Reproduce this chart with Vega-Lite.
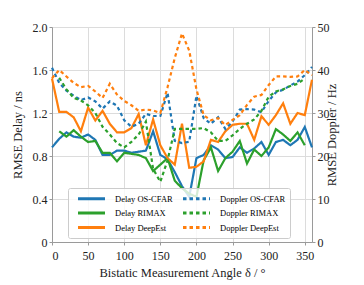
{
  "$schema": "https://vega.github.io/schema/vega-lite/v6.json",
  "width": 260,
  "height": 215,
  "autosize": {"type": "none"},
  "padding": {"left": 52, "top": 27, "right": 52, "bottom": 43},
  "background": "white",
  "config": {
    "font": "Liberation Serif",
    "view": {"stroke": null},
    "axis": {
      "labelFont": "Liberation Serif",
      "titleFont": "Liberation Serif",
      "labelFontSize": 12,
      "titleFontSize": 12.5,
      "titleFontWeight": "normal",
      "labelColor": "#222",
      "titleColor": "#222",
      "domainColor": "#9a9a9a",
      "tickColor": "#9a9a9a",
      "tickSize": 3,
      "gridColor": "#dcdcdc",
      "gridWidth": 1,
      "labelPadding": 2
    },
    "legend": {
      "labelFont": "Liberation Serif",
      "labelFontSize": 8.5
    }
  },
  "data": {
    "values": [
      {"a":0,"s":"Delay OS-CFAR","v":0.88},{"a":10,"s":"Delay OS-CFAR","v":0.96},{"a":20,"s":"Delay OS-CFAR","v":1.02},{"a":30,"s":"Delay OS-CFAR","v":0.98},{"a":40,"s":"Delay OS-CFAR","v":0.97},{"a":50,"s":"Delay OS-CFAR","v":1.0},{"a":60,"s":"Delay OS-CFAR","v":0.95},{"a":70,"s":"Delay OS-CFAR","v":0.81},{"a":80,"s":"Delay OS-CFAR","v":0.81},{"a":90,"s":"Delay OS-CFAR","v":0.85},{"a":100,"s":"Delay OS-CFAR","v":0.85},{"a":110,"s":"Delay OS-CFAR","v":0.83},{"a":120,"s":"Delay OS-CFAR","v":0.84},{"a":130,"s":"Delay OS-CFAR","v":0.85},{"a":140,"s":"Delay OS-CFAR","v":1.03},{"a":150,"s":"Delay OS-CFAR","v":0.81},{"a":160,"s":"Delay OS-CFAR","v":0.77},{"a":170,"s":"Delay OS-CFAR","v":0.65},{"a":180,"s":"Delay OS-CFAR","v":0.52},{"a":190,"s":"Delay OS-CFAR","v":0.42},{"a":200,"s":"Delay OS-CFAR","v":0.78},{"a":210,"s":"Delay OS-CFAR","v":0.81},{"a":220,"s":"Delay OS-CFAR","v":0.9},{"a":230,"s":"Delay OS-CFAR","v":0.86},{"a":240,"s":"Delay OS-CFAR","v":0.78},{"a":250,"s":"Delay OS-CFAR","v":0.79},{"a":260,"s":"Delay OS-CFAR","v":0.88},{"a":270,"s":"Delay OS-CFAR","v":0.83},{"a":280,"s":"Delay OS-CFAR","v":0.87},{"a":290,"s":"Delay OS-CFAR","v":0.93},{"a":300,"s":"Delay OS-CFAR","v":0.81},{"a":310,"s":"Delay OS-CFAR","v":0.93},{"a":320,"s":"Delay OS-CFAR","v":0.95},{"a":330,"s":"Delay OS-CFAR","v":0.9},{"a":340,"s":"Delay OS-CFAR","v":0.95},{"a":350,"s":"Delay OS-CFAR","v":1.07},{"a":360,"s":"Delay OS-CFAR","v":0.88},

      {"a":10,"s":"Delay RIMAX","v":1.03},{"a":20,"s":"Delay RIMAX","v":0.98},{"a":30,"s":"Delay RIMAX","v":1.04},{"a":40,"s":"Delay RIMAX","v":0.98},{"a":50,"s":"Delay RIMAX","v":0.93},{"a":60,"s":"Delay RIMAX","v":0.94},{"a":70,"s":"Delay RIMAX","v":0.83},{"a":80,"s":"Delay RIMAX","v":0.83},{"a":90,"s":"Delay RIMAX","v":0.75},{"a":100,"s":"Delay RIMAX","v":0.83},{"a":110,"s":"Delay RIMAX","v":0.82},{"a":120,"s":"Delay RIMAX","v":0.81},{"a":130,"s":"Delay RIMAX","v":0.78},{"a":140,"s":"Delay RIMAX","v":0.66},{"a":150,"s":"Delay RIMAX","v":0.72},{"a":160,"s":"Delay RIMAX","v":0.78},{"a":170,"s":"Delay RIMAX","v":0.57},{"a":180,"s":"Delay RIMAX","v":0.5},{"a":190,"s":"Delay RIMAX","v":0.45},{"a":200,"s":"Delay RIMAX","v":0.42},{"a":210,"s":"Delay RIMAX","v":0.76},{"a":220,"s":"Delay RIMAX","v":0.88},{"a":230,"s":"Delay RIMAX","v":0.66},{"a":240,"s":"Delay RIMAX","v":0.78},{"a":250,"s":"Delay RIMAX","v":0.84},{"a":260,"s":"Delay RIMAX","v":0.94},{"a":270,"s":"Delay RIMAX","v":0.73},{"a":280,"s":"Delay RIMAX","v":0.86},{"a":290,"s":"Delay RIMAX","v":0.8},{"a":300,"s":"Delay RIMAX","v":0.88},{"a":310,"s":"Delay RIMAX","v":1.05},{"a":320,"s":"Delay RIMAX","v":1.0},{"a":330,"s":"Delay RIMAX","v":0.94},{"a":340,"s":"Delay RIMAX","v":1.02},{"a":350,"s":"Delay RIMAX","v":0.9},

      {"a":0,"s":"Delay DeepEst","v":1.52},{"a":10,"s":"Delay DeepEst","v":1.21},{"a":20,"s":"Delay DeepEst","v":1.21},{"a":30,"s":"Delay DeepEst","v":1.16},{"a":40,"s":"Delay DeepEst","v":1.03},{"a":50,"s":"Delay DeepEst","v":1.25},{"a":60,"s":"Delay DeepEst","v":1.13},{"a":70,"s":"Delay DeepEst","v":1.22},{"a":80,"s":"Delay DeepEst","v":1.1},{"a":90,"s":"Delay DeepEst","v":1.02},{"a":100,"s":"Delay DeepEst","v":1.02},{"a":110,"s":"Delay DeepEst","v":1.06},{"a":120,"s":"Delay DeepEst","v":1.19},{"a":130,"s":"Delay DeepEst","v":0.9},{"a":140,"s":"Delay DeepEst","v":1.14},{"a":150,"s":"Delay DeepEst","v":0.9},{"a":160,"s":"Delay DeepEst","v":0.78},{"a":170,"s":"Delay DeepEst","v":0.72},{"a":180,"s":"Delay DeepEst","v":1.1},{"a":190,"s":"Delay DeepEst","v":0.69},{"a":200,"s":"Delay DeepEst","v":0.7},{"a":210,"s":"Delay DeepEst","v":0.75},{"a":220,"s":"Delay DeepEst","v":0.95},{"a":230,"s":"Delay DeepEst","v":0.93},{"a":240,"s":"Delay DeepEst","v":1.03},{"a":250,"s":"Delay DeepEst","v":1.09},{"a":260,"s":"Delay DeepEst","v":1.1},{"a":270,"s":"Delay DeepEst","v":1.1},{"a":280,"s":"Delay DeepEst","v":0.95},{"a":290,"s":"Delay DeepEst","v":1.17},{"a":300,"s":"Delay DeepEst","v":1.09},{"a":310,"s":"Delay DeepEst","v":1.18},{"a":320,"s":"Delay DeepEst","v":1.29},{"a":330,"s":"Delay DeepEst","v":1.1},{"a":340,"s":"Delay DeepEst","v":1.2},{"a":350,"s":"Delay DeepEst","v":1.18},{"a":360,"s":"Delay DeepEst","v":1.51},

      {"a":0,"s":"Doppler OS-CFAR","v":40.5},{"a":10,"s":"Doppler OS-CFAR","v":37},{"a":20,"s":"Doppler OS-CFAR","v":35.2},{"a":30,"s":"Doppler OS-CFAR","v":34},{"a":40,"s":"Doppler OS-CFAR","v":33},{"a":50,"s":"Doppler OS-CFAR","v":33.6},{"a":60,"s":"Doppler OS-CFAR","v":32.7},{"a":70,"s":"Doppler OS-CFAR","v":31},{"a":80,"s":"Doppler OS-CFAR","v":32.7},{"a":90,"s":"Doppler OS-CFAR","v":31.7},{"a":100,"s":"Doppler OS-CFAR","v":28.3},{"a":110,"s":"Doppler OS-CFAR","v":26.8},{"a":120,"s":"Doppler OS-CFAR","v":27.5},{"a":130,"s":"Doppler OS-CFAR","v":29.8},{"a":140,"s":"Doppler OS-CFAR","v":29.3},{"a":150,"s":"Doppler OS-CFAR","v":29.3},{"a":160,"s":"Doppler OS-CFAR","v":34.7},{"a":170,"s":"Doppler OS-CFAR","v":23.5},{"a":180,"s":"Doppler OS-CFAR","v":23},{"a":190,"s":"Doppler OS-CFAR","v":23.3},{"a":200,"s":"Doppler OS-CFAR","v":34},{"a":210,"s":"Doppler OS-CFAR","v":28.8},{"a":220,"s":"Doppler OS-CFAR","v":27.5},{"a":230,"s":"Doppler OS-CFAR","v":29},{"a":240,"s":"Doppler OS-CFAR","v":26.3},{"a":250,"s":"Doppler OS-CFAR","v":28},{"a":260,"s":"Doppler OS-CFAR","v":30.8},{"a":270,"s":"Doppler OS-CFAR","v":30.9},{"a":280,"s":"Doppler OS-CFAR","v":30.8},{"a":290,"s":"Doppler OS-CFAR","v":30.2},{"a":300,"s":"Doppler OS-CFAR","v":32.8},{"a":310,"s":"Doppler OS-CFAR","v":34.8},{"a":320,"s":"Doppler OS-CFAR","v":35.4},{"a":330,"s":"Doppler OS-CFAR","v":36.4},{"a":340,"s":"Doppler OS-CFAR","v":37.3},{"a":350,"s":"Doppler OS-CFAR","v":38.8},{"a":360,"s":"Doppler OS-CFAR","v":40.7},

      {"a":10,"s":"Doppler RIMAX","v":38.2},{"a":20,"s":"Doppler RIMAX","v":35.5},{"a":30,"s":"Doppler RIMAX","v":33.5},{"a":40,"s":"Doppler RIMAX","v":32.9},{"a":50,"s":"Doppler RIMAX","v":31.8},{"a":60,"s":"Doppler RIMAX","v":30},{"a":70,"s":"Doppler RIMAX","v":26.8},{"a":80,"s":"Doppler RIMAX","v":25},{"a":90,"s":"Doppler RIMAX","v":23},{"a":100,"s":"Doppler RIMAX","v":22},{"a":110,"s":"Doppler RIMAX","v":23.3},{"a":120,"s":"Doppler RIMAX","v":25},{"a":130,"s":"Doppler RIMAX","v":28},{"a":140,"s":"Doppler RIMAX","v":17},{"a":150,"s":"Doppler RIMAX","v":14},{"a":160,"s":"Doppler RIMAX","v":19},{"a":170,"s":"Doppler RIMAX","v":26.3},{"a":180,"s":"Doppler RIMAX","v":26.3},{"a":190,"s":"Doppler RIMAX","v":26.3},{"a":200,"s":"Doppler RIMAX","v":26.3},{"a":210,"s":"Doppler RIMAX","v":26.5},{"a":220,"s":"Doppler RIMAX","v":25.5},{"a":230,"s":"Doppler RIMAX","v":23.5},{"a":240,"s":"Doppler RIMAX","v":23.5},{"a":250,"s":"Doppler RIMAX","v":24.8},{"a":260,"s":"Doppler RIMAX","v":26.3},{"a":270,"s":"Doppler RIMAX","v":27.5},{"a":280,"s":"Doppler RIMAX","v":28.5},{"a":290,"s":"Doppler RIMAX","v":30.5},{"a":300,"s":"Doppler RIMAX","v":33.8},{"a":310,"s":"Doppler RIMAX","v":35},{"a":320,"s":"Doppler RIMAX","v":35.5},{"a":330,"s":"Doppler RIMAX","v":36.3},{"a":340,"s":"Doppler RIMAX","v":36.8},{"a":350,"s":"Doppler RIMAX","v":38},

      {"a":0,"s":"Doppler DeepEst","v":38.1},{"a":10,"s":"Doppler DeepEst","v":40},{"a":20,"s":"Doppler DeepEst","v":38.5},{"a":30,"s":"Doppler DeepEst","v":37},{"a":40,"s":"Doppler DeepEst","v":36},{"a":50,"s":"Doppler DeepEst","v":36.3},{"a":60,"s":"Doppler DeepEst","v":35},{"a":70,"s":"Doppler DeepEst","v":33.5},{"a":80,"s":"Doppler DeepEst","v":36.8},{"a":90,"s":"Doppler DeepEst","v":34.3},{"a":100,"s":"Doppler DeepEst","v":32.8},{"a":110,"s":"Doppler DeepEst","v":31.8},{"a":120,"s":"Doppler DeepEst","v":30.5},{"a":130,"s":"Doppler DeepEst","v":30.8},{"a":140,"s":"Doppler DeepEst","v":30.6},{"a":150,"s":"Doppler DeepEst","v":30},{"a":160,"s":"Doppler DeepEst","v":36},{"a":170,"s":"Doppler DeepEst","v":42.8},{"a":180,"s":"Doppler DeepEst","v":48.5},{"a":190,"s":"Doppler DeepEst","v":44.5},{"a":200,"s":"Doppler DeepEst","v":35.5},{"a":210,"s":"Doppler DeepEst","v":29.5},{"a":220,"s":"Doppler DeepEst","v":28.3},{"a":230,"s":"Doppler DeepEst","v":28.8},{"a":240,"s":"Doppler DeepEst","v":27.2},{"a":250,"s":"Doppler DeepEst","v":28.4},{"a":260,"s":"Doppler DeepEst","v":29.5},{"a":270,"s":"Doppler DeepEst","v":31.9},{"a":280,"s":"Doppler DeepEst","v":33.8},{"a":290,"s":"Doppler DeepEst","v":34.2},{"a":300,"s":"Doppler DeepEst","v":36.5},{"a":310,"s":"Doppler DeepEst","v":38.5},{"a":320,"s":"Doppler DeepEst","v":38.5},{"a":330,"s":"Doppler DeepEst","v":38.4},{"a":340,"s":"Doppler DeepEst","v":38.5},{"a":350,"s":"Doppler DeepEst","v":40},{"a":360,"s":"Doppler DeepEst","v":38.8}
    ]
  },
  "encoding": {
    "x": {
      "field": "a", "type": "quantitative",
      "scale": {"domain": [0, 360], "nice": false, "zero": false},
      "axis": {"title": "Bistatic Measurement Angle δ / °", "values": [0,50,100,150,200,250,300,350], "grid": true, "labelPadding": 5, "titlePadding": 5, "labelFont": "Liberation Serif", "titleFont": "Liberation Serif"}
    },
    "color": {
      "field": "s", "type": "nominal",
      "scale": {
        "domain": ["Delay OS-CFAR","Delay RIMAX","Delay DeepEst","Doppler OS-CFAR","Doppler RIMAX","Doppler DeepEst"],
        "range": ["#1f77b4","#2ca02c","#ff7f0e","#1f77b4","#2ca02c","#ff7f0e"]
      },
      "legend": {
        "title": null, "orient": "none", "legendX": 16, "legendY": 161,
        "columns": 2, "columnPadding": 4, "rowPadding": 1.5,
        "symbolType": "M-2.7,0H2.7", "symbolSize": 100, "symbolStrokeWidth": 3, "symbolOffset": 13,
        "labelOffset": 17, "padding": 4,
        "fillColor": "rgba(255,255,255,0.8)", "strokeColor": "#cccccc", "cornerRadius": 2
      }
    },
    "strokeDash": {
      "field": "s", "type": "nominal",
      "scale": {
        "domain": ["Delay OS-CFAR","Delay RIMAX","Delay DeepEst","Doppler OS-CFAR","Doppler RIMAX","Doppler DeepEst"],
        "range": [[1,0],[1,0],[1,0],[3.5,3],[3.5,3],[3.5,3]]
      },
      "legend": {
        "title": null, "orient": "none", "legendX": 16, "legendY": 161,
        "columns": 2, "columnPadding": 4, "rowPadding": 1.5,
        "symbolType": "M-2.7,0H2.7", "symbolSize": 100, "symbolStrokeWidth": 3, "symbolOffset": 13,
        "labelOffset": 17, "padding": 4,
        "fillColor": "rgba(255,255,255,0.8)", "strokeColor": "#cccccc", "cornerRadius": 2
      }
    }
  },
  "layer": [
    {
      "transform": [{"filter": {"field": "s", "oneOf": ["Delay OS-CFAR","Delay RIMAX","Delay DeepEst"]}}],
      "mark": {"type": "line", "strokeWidth": 2.2},
      "encoding": {
        "y": {
          "field": "v", "type": "quantitative",
          "scale": {"domain": [0, 2], "nice": false},
          "axis": {"title": "RMSE Delay / ns", "values": [0,0.4,0.8,1.2,1.6,2.0], "grid": true, "labelExpr": "datum.value == 0 ? '0' : format(datum.value, '.1f')", "titlePadding": 8, "labelFont": "Liberation Serif", "titleFont": "Liberation Serif"}
        }
      }
    },
    {
      "transform": [{"filter": {"field": "s", "oneOf": ["Doppler OS-CFAR","Doppler RIMAX","Doppler DeepEst"]}}],
      "mark": {"type": "line", "strokeWidth": 2.2},
      "encoding": {
        "y": {
          "field": "v", "type": "quantitative",
          "scale": {"domain": [0, 50], "nice": false},
          "axis": {"title": "RMSE Doppler / Hz", "orient": "right", "values": [0,10,20,30,40,50], "grid": false, "titleAngle": -90, "titlePadding": 9, "labelFont": "Liberation Serif", "titleFont": "Liberation Serif"}
        }
      }
    }
  ],
  "resolve": {"scale": {"y": "independent"}}
}
